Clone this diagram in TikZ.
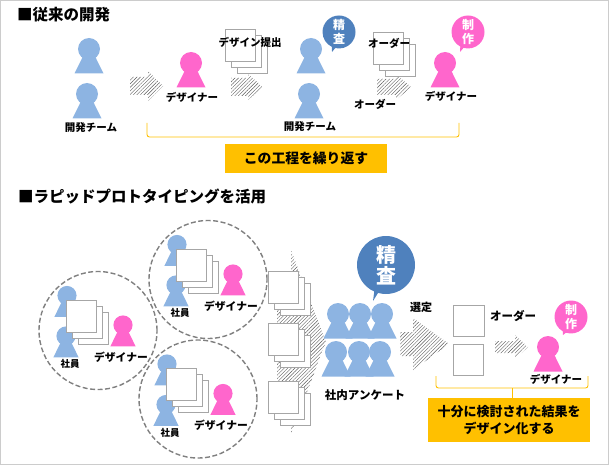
\documentclass[tikz,border=0pt]{standalone}
\usepackage{fontspec}
\setmainfont{Noto Sans CJK JP}
\usetikzlibrary{positioning, patterns.meta, shapes.callouts}
\definecolor{memberblue}{HTML}{8DB4E2}
\definecolor{designerpink}{HTML}{FF66CC}
\definecolor{bubbleblue}{HTML}{4F81BD}
\definecolor{boxyellow}{HTML}{FFC000}
\definecolor{papergrey}{HTML}{A6A6A6}
\definecolor{framegrey}{HTML}{CCCCCC}
\definecolor{ringgrey}{HTML}{808080}
\newcommand{\sizedfont}[1]{\fontsize{#1}{#1}\selectfont}

\begin{document}
\begin{tikzpicture}[
  x=1pt, y=-1pt,
  person/.pic={
    \fill[pic actions] (0,0) circle (11pt);
    \fill[pic actions] (0,-5) -- (14.5,24.5) -- (-14.5,24.5) -- cycle;
  },
  papers/.pic={
    \draw[paper] (12,12) rectangle (42,44);
    \draw[paper] (6,6) rectangle (36,38);
    \draw[paper] (0,0) rectangle (30,32);
  },
  meeting/.pic={
    \draw[ring] (0,0) circle (59pt);
    \pic[member, scale=.87] at (-31,-35) {person};
    \pic[member, scale=.87] at (-32,5.5) {person};
    \pic[designer, scale=.87] at (25,-5.5) {person};
    \pic at (-32,-30.5) {papers};
    \node[caption, font=\bfseries\sizedfont{9.5}] (-staff) at (-28,33.5) {社員};
    \node[caption, font=\bfseries\sizedfont{10.8}] (-designer) at (23,26.5) {デザイナー};
  },
  paper/.style={draw=papergrey, fill=white, line width=0.9pt},
  ring/.style={draw=ringgrey, line width=1.4pt, dash pattern=on 5pt off 2.5pt},
  member/.style={fill=memberblue},
  designer/.style={fill=designerpink},
  hatcharrow/.style={pattern={Lines[angle=45, distance=2.5pt, line width=0.4pt]}, pattern color=black!65},
  caption/.style={inner sep=0pt, font=\bfseries\sizedfont{10.5}},
  heading/.style={anchor=west, inner sep=0pt, font=\bfseries\sizedfont{15.5}},
  bubble/.style={ellipse callout, callout pointer arc=12, inner sep=-2pt, minimum width=33pt, minimum height=33pt,
    align=center, text=white, font=\bfseries\sizedfont{12}, execute at begin node={\baselineskip=14pt}},
  yellowbox/.style={fill=boxyellow, inner sep=0pt, align=center, font=\bfseries\sizedfont{13}},
  bracket/.style={draw=boxyellow, line width=0.9pt, rounded corners=2.5pt}
]
  \useasboundingbox (0,0) rectangle (609,465);
  \draw[framegrey, line width=1.5pt] (0.5,0.5) rectangle (608.5,464.5);

  % --- Section headings ---
  \node[heading] (headold) at (17,15) {■従来の開発};
  \node[heading] (headnew) at (18,197) {■ラピッドプロトタイピングを活用};

  % --- Hatched arrows: tail / neck / tip / middle / half body / half head ---
  \foreach \xa/\xb/\xc/\ym/\bh/\hh in {130/148/163/86/9/15, 231/248/263/87/9/13, 377/396/411/87/8/13,
      277/291/326/342/40/92, 400/413/449/344/12/26, 495/515/528/347/6/12}
    \fill[hatcharrow] (\xa,\ym-\bh) -- (\xb,\ym-\bh) -- (\xb,\ym-\hh) -- (\xc,\ym)
      -- (\xb,\ym+\hh) -- (\xb,\ym+\bh) -- (\xa,\ym+\bh) -- cycle;

  % --- Upper row ---
  \foreach \px/\py in {89/49, 87/94, 311/49, 309/94}
    \pic[member] at (\px,\py) {person};
  \foreach \px/\py in {191/63, 445/63, 548/347}
    \pic[designer] at (\px,\py) {person};
  \pic at (225,29) {papers};
  \pic at (373,32) {papers};

  \node[caption] (team1) at (91,128) {開発チーム};
  \node[caption] (des1) at (192,97) {デザイナー};
  \node[caption] (submit) at (250,42) {デザイン提出};
  \node[caption] (team2) at (310,127) {開発チーム};
  \node[caption] (order1) at (389,43) {オーダー};
  \node[caption] (order2) at (375,104) {オーダー};
  \node[caption] (des2) at (451,96) {デザイナー};

  \node[bubble, fill=bubbleblue, callout absolute pointer={(332,52)}] (check1) at (339,32) {精\\査};
  \node[bubble, fill=designerpink, callout absolute pointer={(460,52)}] (make1) at (468,32) {制\\作};

  \node[yellowbox, minimum width=162pt, minimum height=29pt, font=\bfseries\sizedfont{13.8}] (repeatbox) at (306,158.5) {この工程を繰り返す};
  \coordinate (bracketa) at (147,123);
  \coordinate (bracketb) at (459,123);
  \draw[bracket] (bracketa) -- ++(0,14) -- ++(312,0) -- (bracketb);
  \draw[bracket] ([xshift=-3pt]repeatbox.north) -- ++(0,7);

  % --- Three meetings ---
  \pic (left) at (98,330.5) {meeting};
  \pic (top) at (208,279.5) {meeting};
  \pic (low) at (198,399) {meeting};

  % --- Candidates ---
  \foreach \py in {271, 323, 381}
    \pic at (268,\py) {papers};

  \foreach \px in {338, 360, 382}
    \pic[member] at (\px,314) {person};
  \foreach \px in {336, 359, 380}
    \pic[member] at (\px,352) {person};
  \node[caption, font=\bfseries\sizedfont{11.5}] (survey) at (365,395) {社内アンケート};
  \node[bubble, fill=bubbleblue, minimum width=58pt, minimum height=58pt, callout pointer arc=8,
    font=\bfseries\sizedfont{20}, execute at begin node={\baselineskip=21pt}, callout absolute pointer={(373,301)}] (check2) at (386,265) {精\\査};

  % --- Result ---
  \node[caption, font=\bfseries\sizedfont{11}] (pick) at (421,307) {選定};
  \draw[paper] (453,305) rectangle (484,336);
  \draw[paper] (453,344) rectangle (483,375);
  \node[caption, font=\bfseries\sizedfont{11.5}] (order3) at (513,316) {オーダー};
  \node[caption] (des3) at (556,379) {デザイナー};
  \node[bubble, fill=designerpink, callout absolute pointer={(563,335)}] (make2) at (571,317) {制\\作};

  \node[yellowbox, minimum width=162pt, minimum height=44pt, execute at begin node={\baselineskip=17pt}] (resultbox) at (509,420) {十分に検討された結果を\\デザイン化する};
  \coordinate (bracketc) at (436,376);
  \coordinate (bracketd) at (588,376);
  \draw[bracket] (bracketc) -- ++(0,12) -- ++(152,0) -- (bracketd);
  \draw[bracket] ([xshift=3pt]resultbox.north) -- ++(0,-10);

\end{tikzpicture}
\end{document}
